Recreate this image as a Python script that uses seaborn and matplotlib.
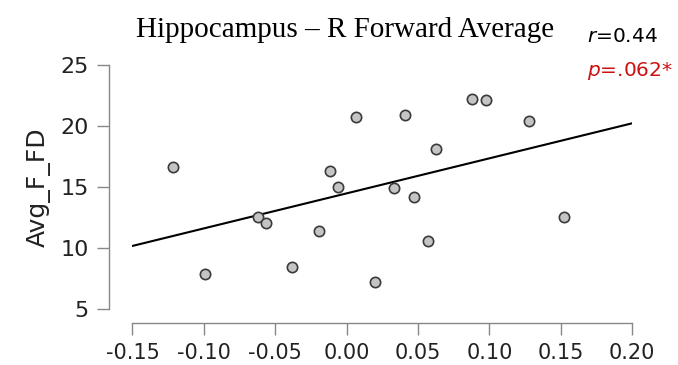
import numpy as np
import pandas as pd
import seaborn as sns
import matplotlib.pyplot as plt

# values
hipp_r_fwd = [-0.1214, -0.0992, -0.0618, -0.0567, -0.0380, -0.0195, -0.0114, -0.0058,
              0.0068, 0.0201, 0.0330, 0.0408, 0.0468, 0.0571, 0.0627, 0.0874,
              0.0977, 0.1279, 0.1524]
avg_f_fd = [16.67, 7.89, 12.58, 12.09, 8.49, 11.39, 16.32, 14.99,
            20.77, 7.24, 14.93, 20.91, 14.19, 10.62, 18.15, 22.19,
            22.11, 20.42, 12.53]
x_ticks = [-0.15, -0.10, -0.05, 0.00, 0.05, 0.10, 0.15, 0.20]
y_ticks = [5, 10, 15, 20, 25]
r_text = "0.44"
p_text = ".062*"

df = pd.DataFrame({'x': hipp_r_fwd, 'Avg_F_FD': avg_f_fd})

sns.set_style('ticks')
plt.rcParams['font.family'] = ['DejaVu Sans']

fig = plt.figure(figsize=(6.78, 3.65), dpi=100)
ax = fig.add_axes([0.1954, 0.1526, 0.7372, 0.6694])
ax.set_xlim(-0.15, 0.20)
ax.set_ylim(5, 25)

# scatter + least-squares line over the full x range
sns.regplot(data=df, x='x', y='Avg_F_FD', ax=ax, ci=None, truncate=False,
            scatter_kws=dict(s=55, color='#c4c4c4', edgecolor='#3a3a3a', linewidths=1.2, alpha=1, zorder=3),
            line_kws=dict(color='black', lw=1.5, zorder=2))

ax.set_xlim(-0.15, 0.20)
ax.set_ylim(5, 25)
ax.set_xticks(x_ticks)
ax.set_xticklabels(['%.2f' % v for v in x_ticks])
ax.set_yticks(y_ticks)
ax.set_xlabel('')
ax.set_ylabel('Avg_F_FD', fontsize=18, color='#222222', labelpad=7)

sns.despine(ax=ax, offset={'left': 17, 'bottom': 10}, trim=True)
for side in ['left', 'bottom']:
    ax.spines[side].set_color('#888888')
    ax.spines[side].set_linewidth(1.0)
ax.tick_params(axis='both', colors='#888888', labelcolor='#222222', labelsize=15, length=8.5, width=1.0, pad=6)
ax.tick_params(axis='y', labelsize=16)

fig.text(0.509, 0.918, 'Hippocampus – R Forward Average', ha='center', va='center',
         fontsize=21, family='Liberation Serif', color='black')
fig.text(0.866, 0.9, r'$\it{r}$=' + r_text, ha='left', va='center', fontsize=14.5, color='black')
fig.text(0.866, 0.805, r'$\it{p}$=' + p_text, ha='left', va='center', fontsize=14.5, color='#cc1111')

fig.savefig('out.png', dpi=100)
